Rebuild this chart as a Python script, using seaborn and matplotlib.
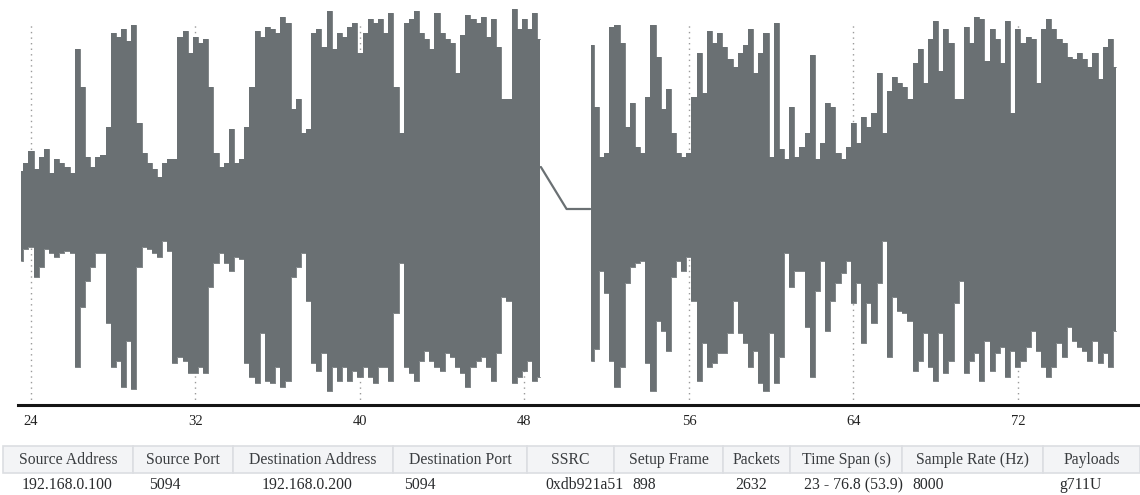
import numpy as np
import matplotlib
matplotlib.use("Agg")
import matplotlib.pyplot as plt
import seaborn as sns
from matplotlib.patches import Rectangle

# ---------------- data ----------------
SEG1_START = 23.5      # s, first envelope bin of first stretch
SEG2_START = 51.25     # s, first envelope bin of second stretch
BIN = 0.25             # s per envelope bin

seg1_upper = [0.19,0.23,0.29,0.20,0.26,0.30,0.18,0.25,0.23,0.21, 0.18,0.80,0.61,0.26,0.21,0.26,0.27,0.41,0.88,0.86,
              0.90,0.84,0.92,0.43,0.28,0.23,0.20,0.16,0.23,0.25, 0.25,0.86,0.89,0.78,0.86,
              0.83,0.85,0.61,0.28,0.21,0.23,0.40,0.23,0.25,0.41, 0.61,0.89,0.86,0.91,0.90,0.88,0.96,0.93,0.50,0.55,
              0.38,0.40,0.88,0.90,0.81,0.99,0.80,0.88,0.86,0.91, 0.93,0.78,0.88,0.95,0.93,0.95,
              0.88,0.98,0.61,0.38,0.93,0.95,0.99,0.88,0.85,0.80, 0.98,0.88,0.85,0.83,0.68,0.87,0.97,0.95,0.93,0.96,
              0.86,0.95,0.81,0.55,0.55,1.00,0.90,0.95,0.90,0.98, 0.85]
seg1_lower = [-0.26,-0.20,-0.19,-0.34,-0.29,-0.20,-0.22,-0.24,-0.22,-0.21, -0.22,-0.79,-0.49,-0.36,-0.29,-0.22,-0.22,-0.57,-0.79,-0.76,
              -0.89,-0.66,-0.90,-0.29,-0.19,-0.20,-0.22,-0.24,-0.16,-0.21, -0.77,-0.74,-0.76,-0.82,-0.82,
              -0.79,-0.82,-0.39,-0.27,-0.22,-0.27,-0.31,-0.24,-0.25,-0.77, -0.84,-0.87,-0.62,-0.86,-0.87,-0.79,-0.89,-0.86,-0.34,-0.29,
              -0.22,-0.46,-0.77,-0.81,-0.72,-0.91,-0.79,-0.86,-0.79,-0.86, -0.81,-0.84,-0.79,-0.84,-0.87,-0.79,
              -0.79,-0.86,-0.52,-0.27,-0.79,-0.82,-0.86,-0.76,-0.71,-0.76, -0.79,-0.81,-0.72,-0.74,-0.79,-0.82,-0.89,-0.79,-0.76,-0.74,
              -0.79,-0.86,-0.72,-0.44,-0.46,-0.87,-0.84,-0.81,-0.76,-0.86, -0.84]
seg2_upper = [0.82,0.51,0.26,0.28,0.91,0.92,0.83,0.41,0.53,0.31, 0.28,0.56,0.92,0.76,0.50,0.60,0.38,0.28,0.26,0.28,
              0.56,0.78,0.58,0.89,0.83,0.88,0.81,0.75,0.71,0.78, 0.82,0.90,
              0.68,0.78,0.88,0.26,0.93,0.30,0.25,0.51,0.26,0.31, 0.38,0.77,0.25,0.33,0.53,0.51,0.28,0.25,0.31,0.43,
              0.33,0.46,0.41,0.48,0.68,0.38,0.59,0.66,0.63,0.61, 0.55,0.73,0.80,0.63,0.85,0.94,
              0.69,0.90,0.83,0.55,0.55,0.91,0.83,0.96,0.95,0.74, 0.90,0.85,0.73,0.94,0.48,0.90,0.83,0.86,0.85,0.63,
              0.90,0.95,0.90,0.85,0.83,0.76,0.75,0.78,0.75,0.71, 0.78,0.65,0.81,0.85,0.71]
seg2_lower = [-0.76,-0.70,-0.31,-0.42,-0.76,-0.89,-0.79,-0.37,-0.29,-0.27, -0.26,-0.77,-0.91,-0.56,-0.61,-0.71,-0.34,-0.26,-0.31,-0.24,
              -0.46,-0.86,-0.67,-0.79,-0.77,-0.72,-0.72,-0.62,-0.46,-0.62, -0.67,-0.79,
              -0.71,-0.87,-0.91,-0.62,-0.87,-0.74,-0.22,-0.39,-0.31,-0.31, -0.59,-0.84,-0.41,-0.26,-0.61,-0.46,-0.37,-0.32,-0.26,-0.47,
              -0.37,-0.67,-0.47,-0.57,-0.37,-0.16,-0.74,-0.44,-0.51,-0.52, -0.56,-0.81,-0.76,-0.62,-0.79,-0.86,
              -0.62,-0.82,-0.76,-0.47,-0.36,-0.82,-0.76,-0.72,-0.86,-0.66, -0.81,-0.72,-0.69,-0.84,-0.71,-0.79,-0.76,-0.69,-0.61,-0.71,
              -0.79,-0.84,-0.79,-0.67,-0.74,-0.59,-0.66,-0.69,-0.71,-0.76, -0.66,-0.77,-0.72,-0.79,-0.61]

# line drawn across the silent gap
gap_t = [48.8, 50.05, 51.2]
gap_v = [0.21, 0.0, 0.0]

major_ticks = [24, 32, 40, 48, 56, 64, 72]
tick_labels = ["24", "32", "40", "48", "56", "64", "72"]

headers = ["Source Address", "Source Port", "Destination Address", "Destination Port", "SSRC",
           "Setup Frame", "Packets", "Time Span (s)", "Sample Rate (Hz)", "Payloads"]
row_values = ["192.168.0.100", "5094", "192.168.0.200", "5094", "0xdb921a51",
              "898", "2632", "23 - 76.8 (53.9)", "8000", "g711U"]

# ---------------- layout / style ----------------
W, H = 1140, 495
WAVE = "#6a7073"
col_edges = [3, 133, 233, 393, 527, 614, 723, 790, 902, 1043, 1140]
val_x = [22, 149, 262, 404, 545, 632, 735, 804, 912, 1059]

sns.set_theme(style="white")
plt.rcParams["font.family"] = ["Liberation Serif", "DejaVu Serif"]

fig = plt.figure(figsize=(W / 100, H / 100), dpi=100)

# table (pixel coordinates)
tab = fig.add_axes([0, 0, 1, 1])
tab.set_xlim(0, W)
tab.set_ylim(H, 0)
tab.axis("off")
for i, (h, v) in enumerate(zip(headers, row_values)):
    x0, x1 = col_edges[i], col_edges[i + 1]
    tab.add_patch(Rectangle((x0, 446), x1 - x0, 27, facecolor="#f3f4f6",
                            edgecolor="#dcdee2", lw=1.2))
    tab.text((x0 + x1) / 2, 460, h, ha="center", va="center", fontsize=11.3, color="#3a3d40")
    tab.text(val_x[i], 485, v, ha="left", va="center", fontsize=11.3, color="#2a2c2e")

# waveform axes
ax = fig.add_axes([18 / W, (H - 405) / H, (W - 18) / W, 405 / H])
ax.patch.set_alpha(0)

t1 = SEG1_START + BIN * np.arange(len(seg1_upper))
t2 = SEG2_START + BIN * np.arange(len(seg2_upper))

for t, up, lo in ((t1, seg1_upper, seg1_lower), (t2, seg2_upper, seg2_lower)):
    ax.fill_between(t, lo, up, step="mid", color=WAVE, lw=0, zorder=2)
    sns.lineplot(x=t, y=up, ax=ax, color=WAVE, lw=0.6, drawstyle="steps-mid",
                 estimator=None, sort=False, zorder=2)
    sns.lineplot(x=t, y=lo, ax=ax, color=WAVE, lw=0.6, drawstyle="steps-mid",
                 estimator=None, sort=False, zorder=2)

sns.lineplot(x=gap_t, y=gap_v, ax=ax, color=WAVE, lw=1.6, estimator=None, sort=False, zorder=2)

ax.set_xlim(23.368, 77.94)
ax.set_ylim(-0.98, 1.045)

# dotted grid lines at major ticks
for mt in major_ticks:
    ax.axvline(mt, ymin=0, ymax=(405 - 23) / 405, color="#9a9a9a", lw=1.0,
               ls=(0, (1, 3)), zorder=1)

for s in ("top", "left", "right"):
    ax.spines[s].set_visible(False)
ax.spines["bottom"].set_linewidth(2.2)
ax.spines["bottom"].set_color("#151515")
ax.spines["bottom"].set_zorder(5)

ax.set_xticks(major_ticks)
ax.set_xticklabels(tick_labels)
ax.set_xticks(np.arange(26, 78, 2), minor=True)
ax.tick_params(axis="x", which="major", direction="in", length=5, width=1.6,
               color="#151515", pad=7, labelsize=10.5, labelcolor="#222222")
ax.tick_params(axis="x", which="minor", direction="in", length=2.5, width=1.4, color="#151515")
ax.set_yticks([])
ax.set_xlabel("")
ax.set_ylabel("")
ax.legend_ = None

fig.savefig("out.png", dpi=100)
